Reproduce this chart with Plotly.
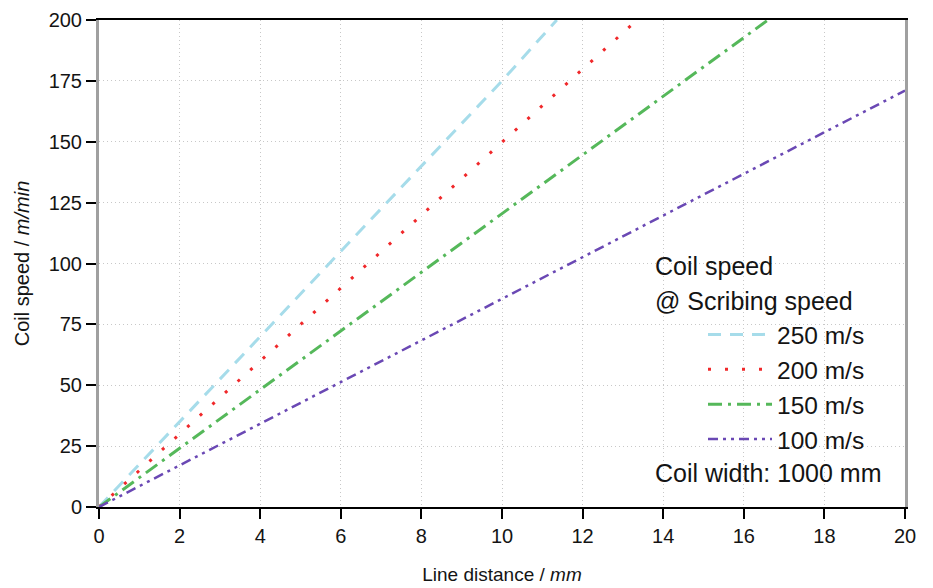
import plotly.graph_objects as go

# Line distance (mm) and coil speed (m/min)
x_250 = [0, 10, 11.36]
y_250 = [0, 175, 200]
x_200 = [0, 10, 13.35]
y_200 = [0, 150, 200]
x_150 = [0, 10, 16.6]
y_150 = [0, 120.5, 200]
x_100 = [0, 10, 20]
y_100 = [0, 85.5, 171]

labels = ["250 m/s", "200 m/s", "150 m/s", "100 m/s"]
x_ticks = [0, 2, 4, 6, 8, 10, 12, 14, 16, 18, 20]
y_ticks = [0, 25, 50, 75, 100, 125, 150, 175, 200]

FONT = "Liberation Sans, Arial, sans-serif"
TXT = "#141414"
L, R, T, B = 99, 28, 20, 81
PW, PH = 933 - L - R, 588 - T - B

fig = go.Figure()

series = [
    (x_250, y_250, labels[0], "#a6dcea", 3, "13px,9px"),
    (x_200, y_200, labels[1], "#f0282a", 3, "3px,14px"),
    (x_150, y_150, labels[2], "#55b85a", 3, "14px,6px,3px,6px"),
    (x_100, y_100, labels[3], "#6a48b4", 2.5, "10px,5px,3px,5px,3px,5px"),
]
for i, (xs, ys, name, col, w, dash) in enumerate(series):
    fig.add_trace(go.Scatter(
        x=xs, y=ys, mode="lines", name=name, legendgroup=f"g{i}",
        line=dict(color=col, width=w, dash=dash),
    ))

def px_x(p):
    return (p - L) / PW

def px_y(p):
    return (588 - B - p) / PH

fig.update_layout(
    width=933, height=588,
    margin=dict(l=L, r=R, t=T, b=B, autoexpand=False),
    paper_bgcolor="white", plot_bgcolor="white",
    font=dict(family=FONT, color=TXT, size=19),
    showlegend=True,
    legend=dict(
        x=px_x(703), y=px_y(387), xanchor="left", yanchor="middle",
        font=dict(size=24.5, family=FONT, color=TXT),
        bgcolor="rgba(0,0,0,0)", tracegroupgap=0, traceorder="grouped",
        itemwidth=64,
    ),
    xaxis=dict(
        range=[0, 20], tickvals=x_ticks, ticktext=[str(v) for v in x_ticks],
        showline=True, linecolor="black", linewidth=2, mirror=True,
        ticks="outside", ticklen=10, tickcolor="black", tickwidth=1.5,
        showgrid=True, gridcolor="#c8c8c8", griddash="1px,3px", gridwidth=1,
        zeroline=False, tickfont=dict(size=20), automargin=False,
        title=dict(text="Line distance / <i>mm</i>", font=dict(size=19), standoff=22),
    ),
    yaxis=dict(
        range=[0, 200], tickvals=y_ticks, ticktext=[str(v) for v in y_ticks],
        showline=True, linecolor="#a0a0a0", linewidth=3, mirror=True,
        ticks="outside", ticklen=10, tickcolor="black", tickwidth=1.5,
        showgrid=True, gridcolor="#c8c8c8", griddash="1px,3px", gridwidth=1,
        zeroline=False, tickfont=dict(size=20), automargin=False,
        title=dict(text="Coil speed / <i>m/min</i>", font=dict(size=20), standoff=14),
    ),
)

for txt, ypix in [("Coil speed", 266), ("@ Scribing speed", 301), ("Coil width: 1000 mm", 473)]:
    fig.add_annotation(text=txt, xref="paper", yref="paper",
                       x=px_x(653), y=px_y(ypix), xanchor="left", yanchor="middle",
                       showarrow=False, font=dict(size=25, family=FONT, color=TXT))

fig.write_html("out.html", config={"displayModeBar": False},
               post_script="document.body.style.margin='0';")
